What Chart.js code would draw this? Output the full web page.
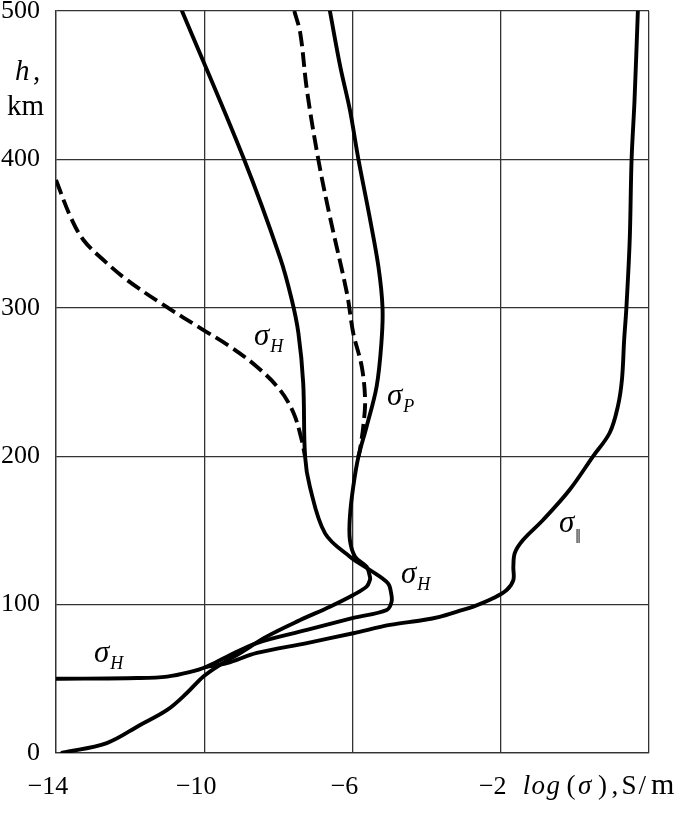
<!DOCTYPE html>
<html>
<head>
<meta charset="utf-8">
<script src="https://cdn.jsdelivr.net/npm/chart.js@4/dist/chart.umd.min.js"></script>
<style>
html,body{margin:0;padding:0;background:#fff;}
#wrap{width:685px;height:820px;position:relative;}
</style>
</head>
<body>
<div id="wrap"><canvas id="c" width="685" height="820"></canvas></div>
<script>
// ---- tick values and labels ----
const xTickValues = [-14, -10, -6, -2, 2];
const xTickLabels = ['\u221214', '\u221210', '\u22126', '\u22122', ''];
const yTickValues = [0, 100, 200, 300, 400, 500];
const yTickLabels = ['0', '100', '200', '300', '400', '500'];

// ---- series: log(sigma) [S/m] vs altitude h [km] ----
// Hall conductivity, solid
const hallSolidLog = [-10.60, -8.94, -7.95, -7.64, -7.46, -7.33, -7.28, -7.15, -6.74, -6.07, -5.53, -5.045, -4.96, -4.945, -5.075, -5.98, -7.23, -8.58, -9.39, -9.95, -10.4, -11.0, -11.8, -14.0];
const hallSolidH   = [500, 400.9, 333.5, 305.6, 283, 249.3, 199.9, 179.4, 148, 132.3, 123.3, 114.4, 108, 102, 96.4, 91, 82.9, 74.1, 64.9, 58, 54.5, 51.5, 50.5, 50];

// Pedersen conductivity, solid
const pedSolidLog = [-6.61, -6.33, -6.07, -5.84, -5.54, -5.30, -5.19, -5.22, -5.35, -5.62, -5.84, -5.98, -6.07, -6.07, -5.93, -5.62, -5.53, -5.53, -5.62, -5.98, -6.61, -7.41, -8.32, -9.03, -9.58, -10.03, -10.47, -11.0, -11.73, -12.63, -13.83];
const pedSolidH   = [500, 462.5, 433.3, 400, 361.4, 327.6, 300, 276.3, 246.8, 219.9, 199.7, 179.4, 159.2, 143.5, 132.3, 125.5, 118.8, 116.6, 112.1, 106.5, 98.6, 89.6, 78.4, 67.4, 59.3, 51.4, 40.4, 29, 18.9, 6.7, 0.2];

// Pedersen conductivity, dashed
const pedDashLog = [-7.57, -7.41, -7.23, -6.92, -6.61, -6.15, -5.98, -5.75, -5.66, -5.71, -5.80, -5.84];
const pedDashH   = [500, 485.2, 446.8, 399.6, 361.4, 309.8, 283, 260.3, 237.9, 219.9, 204.2, 199.7];

// Hall conductivity, dashed
const hallDashLog = [-14.0, -13.61, -13.26, -12.72, -12.08, -11.10, -10.02, -9.30, -8.58, -7.955, -7.59, -7.37, -7.28];
const hallDashH   = [386.1, 361.4, 345.7, 332.2, 318.7, 301.9, 285, 273.8, 260.3, 244.6, 229.1, 210.9, 199.7];

// Parallel (field-aligned) conductivity
const parLog = [1.70, 1.61, 1.53, 1.48, 1.39, 1.33, 1.27, 1.16, 0.94, 0.49, -0.14, -0.86, -1.40, -1.62, -1.66, -1.66, -1.84, -2.21, -2.74, -3.10, -3.65, -4.09, -4.99, -5.98, -7.23, -8.58, -9.39, -9.95];
const parH   = [500, 440.2, 399.8, 346, 300.1, 278.5, 251.6, 233.6, 215.8, 199.9, 177.4, 157, 143.5, 134.8, 125.5, 116.6, 109.8, 104.2, 98.6, 95.9, 91.8, 89.6, 86.3, 80.7, 74.1, 67.4, 60.5, 58];

function pts(xs, ys) { return xs.map((v, i) => ({ x: v, y: ys[i] })); }

const SERIF = '"Liberation Serif", "DejaVu Serif", serif';

// text annotations (pixel layout)
const curveLabels = [
  { sub: 'H', x: 94,  y: 662 },
  { sub: 'H', x: 254, y: 345 },
  { sub: 'P', x: 387, y: 405 },
  { sub: 'H', x: 401, y: 583 },
  { sub: '\u2016', x: 559, y: 532, roman: true }
];
const xTitlePieces = [
  ['l', 522.7, true], ['o', 531.5, true], ['g', 546.5, true], ['(', 566.5, false],
  ['\u03C3', 578, true], [')', 598, false], [',', 611.5, false],
  ['S', 621.5, false], ['/', 638.5, false], ['m', 651, false]
];

const textPlugin = {
  id: 'texts',
  afterDraw(chart) {
    const ctx = chart.ctx;
    ctx.save();
    ctx.fillStyle = '#000';
    ctx.textBaseline = 'alphabetic';
    ctx.textAlign = 'left';
    // y-axis title
    ctx.font = 'italic 29px ' + SERIF;
    ctx.fillText('h', 15, 80);
    ctx.font = '29px ' + SERIF;
    ctx.fillText(',', 33, 80);
    ctx.fillText('km', 7, 115);
    // x-axis title
    xTitlePieces.forEach(([t, x, it]) => {
      ctx.font = (it ? 'italic ' : '') + (t === 'm' ? '30px ' : '27px ') + SERIF;
      ctx.fillText(t, x, 794);
    });
    // curve labels
    curveLabels.forEach(l => {
      ctx.font = 'italic 31px ' + SERIF;
      ctx.fillText('\u03C3', l.x, l.y);
      const w = ctx.measureText('\u03C3').width;
      if (l.roman) {
        ctx.font = '20px ' + SERIF;
        ctx.fillText(l.sub, l.x + w + 1, l.y + 11);
      } else {
        ctx.font = 'italic 18px ' + SERIF;
        ctx.fillText(l.sub, l.x + w + 1, l.y + 7);
      }
    });
    ctx.restore();
  }
};

const solid = { showLine: true, pointRadius: 0, borderColor: '#000', backgroundColor: '#000', borderWidth: 3.9, tension: 0.35, fill: false, borderCapStyle: 'round', borderJoinStyle: 'round' };
const dashed = Object.assign({}, solid, { borderDash: [15, 6], borderCapStyle: 'butt' });

new Chart(document.getElementById('c'), {
  type: 'scatter',
  data: {
    datasets: [
      Object.assign({ label: 'σH', data: pts(hallSolidLog, hallSolidH) }, solid),
      Object.assign({ label: 'σP', data: pts(pedSolidLog, pedSolidH) }, solid),
      Object.assign({ label: 'σP dashed', data: pts(pedDashLog, pedDashH) }, dashed),
      Object.assign({ label: 'σH dashed', data: pts(hallDashLog, hallDashH) }, dashed),
      Object.assign({ label: 'σ∥', data: pts(parLog, parH) }, solid)
    ]
  },
  options: {
    responsive: false,
    animation: false,
    devicePixelRatio: 1,
    layout: { padding: { left: 0, right: 36, top: 11, bottom: 0 } },
    plugins: { legend: { display: false }, tooltip: { enabled: false } },
    scales: {
      x: {
        type: 'linear', min: -14, max: 2,
        afterBuildTicks: s => { s.ticks = xTickValues.map(v => ({ value: v })); },
        ticks: {
          callback: v => { const i = xTickValues.indexOf(v); return i >= 0 ? xTickLabels[i] : ''; },
          font: { family: SERIF, size: 26 }, color: '#000', padding: 19,
          maxRotation: 0, autoSkip: false, labelOffset: -8
        },
        grid: { color: '#333', lineWidth: 1.3, drawTicks: false },
        border: { display: true, color: '#333', width: 1.3 },
        afterFit: s => { s.height = 67; s.paddingLeft = 0; s.paddingRight = 0; }
      },
      y: {
        type: 'linear', min: 0, max: 500,
        afterBuildTicks: s => { s.ticks = yTickValues.map(v => ({ value: v })); },
        ticks: {
          callback: v => { const i = yTickValues.indexOf(v); return i >= 0 ? yTickLabels[i] : ''; },
          font: { family: SERIF, size: 26 }, color: '#000', padding: 16, autoSkip: false
        },
        grid: { color: '#333', lineWidth: 1.3, drawTicks: false },
        border: { display: true, color: '#333', width: 1.3 },
        afterFit: s => { s.width = 56; s.paddingTop = 0; s.paddingBottom = 0; }
      }
    }
  },
  plugins: [textPlugin]
});
</script>
</body>
</html>
